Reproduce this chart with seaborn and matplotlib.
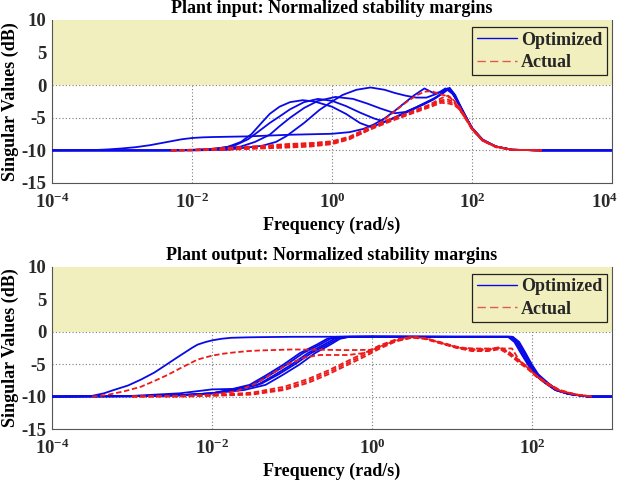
import numpy as np
import pandas as pd
import matplotlib
matplotlib.use("Agg")
import matplotlib.pyplot as plt
import matplotlib.transforms as mtransforms
from matplotlib.lines import Line2D
import seaborn as sns

# ---------------- data (log10 of frequency in rad/s, singular value in dB) ----------------
# Top panel: Plant input, "Optimized" (solid blue)
top_opt1_x = [-4, -3.4, -3.2, -3.0, -2.8, -2.6, -2.45, -2.3, -2.15, -2.0, -1.85, -1.7, -1.2, -0.6, 0.0, 0.25, 0.45, 0.6, 0.75, 0.9, 1.05, 1.18, 1.32, 1.45, 1.55, 1.65, 1.74, 1.82, 1.91, 2.0, 2.15, 2.34, 2.57, 3.0, 4.0]
top_opt1_y = [-10, -9.95, -9.85, -9.7, -9.5, -9.2, -8.9, -8.6, -8.3, -8.1, -8.0, -7.95, -7.85, -7.6, -7.45, -7.2, -6.7, -6.0, -5.1, -3.9, -2.6, -1.5, -0.5, -1.2, -1.1, -0.5, -1.4, -3.0, -4.8, -6.6, -8.4, -9.4, -9.9, -10, -10]
top_opt2_x = [-4, -2.5, -1.8, -1.5, -1.3, -1.15, -1.0, -0.89, -0.75, -0.6, -0.42, -0.25, 0.0, 0.2, 0.4, 0.55, 0.7, 0.9, 1.1, 1.3, 1.45, 1.56, 1.66, 1.74, 1.82, 1.91, 2.0, 2.15, 2.34, 2.57, 3.0, 4.0]
top_opt2_y = [-10, -10, -9.9, -9.5, -8.7, -7.5, -5.7, -4.4, -3.3, -2.6, -2.3, -2.5, -3.3, -4.4, -5.8, -6.4, -5.9, -4.9, -3.9, -2.9, -2.1, -1.3, -0.5, -1.4, -3.0, -4.8, -6.6, -8.4, -9.4, -9.9, -10, -10]
top_opt3_x = [-4, -2.3, -1.7, -1.4, -1.2, -1.05, -0.89, -0.75, -0.6, -0.4, -0.2, 0.0, 0.2, 0.4, 0.6, 0.75, 0.9, 1.1, 1.3, 1.45, 1.56, 1.66, 1.74, 1.82, 1.91, 2.0, 2.15, 2.34, 2.57, 3.0, 4.0]
top_opt3_y = [-10, -10, -9.8, -9.3, -8.3, -7.1, -5.8, -4.8, -3.7, -2.6, -2.1, -2.4, -3.2, -4.2, -5.1, -5.6, -5.0, -4.0, -3.0, -2.2, -1.4, -0.6, -1.5, -3.1, -4.9, -6.7, -8.5, -9.4, -9.9, -10, -10]
top_opt4_x = [-4, -2.2, -1.6, -1.3, -1.1, -0.89, -0.75, -0.6, -0.4, -0.2, 0.05, 0.3, 0.5, 0.7, 0.9, 1.05, 1.2, 1.35, 1.5, 1.6, 1.68, 1.76, 1.84, 1.92, 2.0, 2.15, 2.34, 2.57, 3.0, 4.0]
top_opt4_y = [-10, -10, -9.8, -9.4, -8.7, -7.6, -6.3, -5.0, -3.5, -2.4, -1.8, -2.1, -2.8, -3.6, -4.3, -4.1, -3.4, -2.6, -1.8, -1.1, -0.4, -1.5, -3.3, -5.0, -6.5, -8.3, -9.4, -9.9, -10, -10]
top_opt5_x = [-4, -2.0, -1.5, -1.0, -0.8, -0.65, -0.4, -0.18, 0.0, 0.15, 0.35, 0.55, 0.75, 0.9, 1.05, 1.2, 1.35, 1.5, 1.62, 1.72, 1.82, 1.91, 2.0, 2.15, 2.34, 2.57, 3.0, 4.0]
top_opt5_y = [-10, -10, -9.9, -9.3, -8.7, -7.8, -5.8, -3.8, -2.5, -1.5, -0.7, -0.35, -0.7, -1.2, -1.6, -1.9, -1.9, -1.3, -0.5, -1.3, -3.0, -4.8, -6.6, -8.4, -9.4, -9.9, -10, -10]

# Top panel: "Actual" (dashed red)
top_act1_x = [-2.3, -2.0, -1.5, -1.0, -0.6, -0.3, 0.0, 0.25, 0.45, 0.65, 0.85, 1.05, 1.2, 1.32, 1.42, 1.52, 1.62, 1.7, 1.8, 1.9, 2.0, 2.15, 2.34, 2.57, 3.0]
top_act1_y = [-10, -9.9, -9.6, -9.3, -9.0, -8.9, -8.7, -8.1, -7.3, -6.1, -4.4, -2.7, -1.6, -1.0, -0.9, -1.3, -1.6, -2.0, -3.4, -5.0, -6.6, -8.4, -9.4, -9.9, -10]
top_act_x = [-2.3, -2.0, -1.5, -1.0, -0.6, -0.3, 0.0, 0.25, 0.5, 0.8, 1.1, 1.39, 1.56, 1.66, 1.74, 1.82, 1.91, 2.0, 2.15, 2.34, 2.57, 3.0]
top_act2_y = [-10, -9.95, -9.7, -9.4, -9.1, -8.9, -8.6, -7.9, -6.6, -5.3, -4.2, -3.0, -2.0, -1.6, -2.3, -3.3, -4.9, -6.6, -8.4, -9.4, -9.9, -10]
top_act3_y = [-10, -9.95, -9.8, -9.5, -9.3, -9.1, -8.8, -8.0, -6.8, -5.5, -4.3, -3.1, -2.3, -2.2, -2.6, -3.4, -5.0, -6.7, -8.5, -9.4, -9.9, -10]
top_act4_y = [-10, -9.98, -9.85, -9.6, -9.45, -9.3, -8.95, -8.2, -6.9, -5.6, -4.4, -3.2, -2.5, -2.5, -2.8, -3.6, -5.1, -6.7, -8.5, -9.5, -9.9, -10]
top_act5_y = [-10, -9.99, -9.9, -9.7, -9.55, -9.4, -9.05, -8.3, -7.0, -5.7, -4.5, -3.4, -2.7, -2.8, -3.0, -3.7, -5.2, -6.8, -8.5, -9.5, -9.9, -10]

# Bottom panel: Plant output, "Optimized"
bot_opt1_x = [-4, -3.7, -3.5, -3.35, -3.23, -3.05, -2.89, -2.72, -2.56, -2.45, -2.35, -2.25, -2.18, -2.08, -2.0, -1.88, -1.76, -1.55, -1.4, -1.0, 0.0, 1.0, 1.72, 1.8, 1.875, 1.96, 2.04, 2.17, 2.3, 2.46, 2.7, 3.0]
bot_opt1_y = [-10, -9.97, -9.9, -9.5, -9.0, -8.3, -7.4, -6.3, -5.0, -4.1, -3.3, -2.5, -2.0, -1.6, -1.35, -1.1, -0.95, -0.88, -0.85, -0.8, -0.78, -0.8, -0.8, -1.6, -3.3, -5.1, -6.6, -7.9, -9.0, -9.6, -10, -10]
bot_opt_y = [-10, -9.95, -9.8, -9.5, -9.0, -8.2, -6.7, -5.1, -3.3, -2.0, -1.1, -0.8, -0.78, -0.8, -0.8, -1.6, -3.3, -5.1, -6.6, -7.9, -9.0, -9.6, -10, -10]
bot_opt2_x = [-4, -3.0, -2.4, -2.0, -1.76, -1.49, -1.28, -1.07, -0.86, -0.65, -0.52, -0.4, 0.0, 1.0, 1.74, 1.82, 1.9, 1.98, 2.06, 2.18, 2.3, 2.46, 2.7, 3.0]
bot_opt3_x = [-4, -3.0, -2.4, -2.0, -1.7, -1.43, -1.22, -1.01, -0.8, -0.6, -0.47, -0.35, 0.0, 1.0, 1.72, 1.8, 1.88, 1.96, 2.04, 2.17, 2.3, 2.46, 2.7, 3.0]
bot_opt4_x = [-4, -3.0, -2.4, -2.0, -1.65, -1.38, -1.17, -0.96, -0.76, -0.56, -0.43, -0.3, 0.0, 1.0, 1.75, 1.83, 1.91, 1.99, 2.07, 2.19, 2.31, 2.47, 2.7, 3.0]
bot_opt4_y = [-10, -9.9, -9.5, -8.9, -8.8, -8.0, -6.6, -5.0, -3.3, -2.0, -1.1, -0.8, -0.78, -0.8, -0.8, -1.6, -3.3, -5.1, -6.6, -7.9, -9.0, -9.6, -10, -10]
bot_opt5_x = [-4, -3.0, -2.4, -2.0, -1.6, -1.33, -1.12, -0.91, -0.71, -0.52, -0.4, -0.28, 0.0, 1.0, 1.7, 1.78, 1.86, 1.95, 2.03, 2.16, 2.29, 2.45, 2.7, 3.0]
bot_opt6_x = [-4, -3.0, -2.4, -2.0, -1.8, -1.53, -1.32, -1.11, -0.9, -0.69, -0.56, -0.44, 0.0, 1.0, 1.76, 1.84, 1.92, 2.0, 2.08, 2.2, 2.32, 2.48, 2.7, 3.0]

# Bottom panel: "Actual"
bot_act1_x = [-3.5, -3.4, -3.31, -3.1, -2.89, -2.72, -2.56, -2.39, -2.18, -2.0, -1.86, -1.72, -1.55, -1.4, -1.0, -0.6, -0.3, 0.0, 0.1, 0.3, 0.5, 0.65, 0.85, 1.05, 1.25, 1.45, 1.6, 1.72, 1.85, 1.95, 2.05, 2.2, 2.35, 2.55, 2.75]
bot_act1_y = [-10, -9.9, -9.75, -9.2, -8.5, -7.6, -6.7, -5.6, -4.3, -3.7, -3.4, -3.2, -3.0, -2.9, -2.75, -2.8, -2.85, -2.8, -2.3, -1.3, -0.85, -1.0, -1.7, -2.4, -2.8, -2.8, -2.5, -3.3, -4.6, -5.6, -6.8, -8.1, -9.1, -9.7, -10]
bot_act2_x = [-2.5, -2.0, -1.7, -1.45, -1.25, -1.05, -0.85, -0.65, -0.3, -0.1, 0.05, 0.2, 0.4, 0.55, 0.7, 0.9, 1.1, 1.3, 1.5, 1.75, 1.85, 1.95, 2.05, 2.2, 2.35, 2.55, 2.75]
bot_act2_y = [-10, -9.7, -9.2, -8.0, -6.5, -5.0, -4.0, -3.6, -3.6, -3.3, -2.6, -1.8, -1.0, -0.85, -1.1, -1.9, -2.5, -2.6, -2.6, -2.6, -4.6, -5.6, -6.8, -8.1, -9.1, -9.7, -10]
bot_act_x = [-3.0, -2.3, -1.9, -1.5, -1.1, -0.8, -0.55, -0.35, -0.1, 0.1, 0.3, 0.5, 0.65, 0.85, 1.05, 1.25, 1.45, 1.6, 1.72, 1.85, 1.95, 2.05, 2.2, 2.35, 2.55, 2.75]
bot_act3_y = [-10, -9.9, -9.7, -9.4, -8.5, -7.3, -6.0, -4.8, -3.3, -2.1, -1.2, -0.85, -1.0, -1.6, -2.3, -2.7, -2.7, -2.4, -3.2, -4.5, -5.5, -6.7, -8.0, -9.0, -9.7, -10]
bot_act4_y = [-10, -9.95, -9.8, -9.6, -8.8, -7.6, -6.3, -5.1, -3.6, -2.4, -1.4, -0.9, -1.05, -1.7, -2.4, -2.9, -2.9, -2.6, -3.4, -4.7, -5.6, -6.8, -8.1, -9.1, -9.7, -10]
bot_act5_y = [-10, -9.98, -9.85, -9.7, -9.0, -7.9, -6.6, -5.4, -3.9, -2.6, -1.5, -0.95, -1.1, -1.8, -2.5, -3.0, -3.0, -2.7, -3.6, -4.9, -5.8, -6.9, -8.2, -9.2, -9.7, -10]

series_names = ["Optimized", "Actual"]
titles = ["Plant input: Normalized stability margins", "Plant output: Normalized stability margins"]
ytick_vals = [-15, -10, -5, 0, 5, 10]
top_xtick_exp = [-4, -2, 0, 2, 4]
bot_xtick_exp = [-4, -2, 0, 2]

panels = {
    "top": {
        "Optimized": [(top_opt1_x, top_opt1_y), (top_opt2_x, top_opt2_y), (top_opt3_x, top_opt3_y),
                      (top_opt4_x, top_opt4_y), (top_opt5_x, top_opt5_y)],
        "Actual": [(top_act1_x, top_act1_y), (top_act_x, top_act2_y), (top_act_x, top_act3_y),
                   (top_act_x, top_act4_y), (top_act_x, top_act5_y)],
    },
    "bottom": {
        "Optimized": [(bot_opt1_x, bot_opt1_y), (bot_opt2_x, bot_opt_y), (bot_opt3_x, bot_opt_y),
                      (bot_opt4_x, bot_opt4_y), (bot_opt5_x, bot_opt_y), (bot_opt6_x, bot_opt_y)],
        "Actual": [(bot_act1_x, bot_act1_y), (bot_act2_x, bot_act2_y), (bot_act_x, bot_act3_y),
                   (bot_act_x, bot_act4_y), (bot_act_x, bot_act5_y)],
    },
}

rows = []
for pname, groups in panels.items():
    for sname, curves in groups.items():
        for cid, (xs, ys) in enumerate(curves):
            for xe, yv in zip(xs, ys):
                rows.append({"panel": pname, "series": sname, "curve": f"{sname}{cid}",
                             "freq": 10.0 ** xe, "sv": yv})
df = pd.DataFrame(rows)

# ---------------- style ----------------
sns.set_theme(style="white")
plt.rcParams["font.family"] = ["Liberation Serif", "DejaVu Serif"]
plt.rcParams["font.weight"] = "bold"
plt.rcParams["mathtext.fontset"] = "custom"
plt.rcParams["mathtext.rm"] = "Liberation Serif:bold"
plt.rcParams["mathtext.it"] = "Liberation Serif:bold:italic"
plt.rcParams["mathtext.bf"] = "Liberation Serif:bold"
plt.rcParams["mathtext.default"] = "rm"

BLUE = "#0A0AE8"
RED = "#EE1A1A"
SHADE = "#F1EFBE"
TICKC = "#2a2a2a"

fig = plt.figure(figsize=(6.24, 4.83), dpi=100)
ax_top = fig.add_axes([52 / 624, 1 - 183 / 483, 560 / 624, 163 / 483])
ax_bot = fig.add_axes([52 / 624, 1 - 429 / 483, 560 / 624, 162.3 / 483])

for ax, pname, title, xt, xlim in [
    (ax_top, "top", titles[0], top_xtick_exp, (1e-4, 1e4)),
    (ax_bot, "bottom", titles[1], bot_xtick_exp, (1e-4, 1e3)),
]:
    sub = df[df["panel"] == pname]
    ax.set_axisbelow(True)
    ax.axhspan(0, 10, color=SHADE, lw=0, zorder=1)
    sns.lineplot(data=sub, x="freq", y="sv", hue="series", style="series",
                 units="curve", estimator=None, sort=False,
                 hue_order=series_names, style_order=series_names,
                 palette={"Optimized": BLUE, "Actual": RED},
                 dashes={"Optimized": "", "Actual": (3.0, 1.5)},
                 linewidth=1.3, legend=False, ax=ax, zorder=3)
    ax.set_xscale("log")
    ax.set_xlim(*xlim)
    ax.set_ylim(-15, 10)
    ax.set_xticks([10.0 ** e for e in xt])
    ax.set_xticklabels([f"$10^{{{e}}}$" for e in xt])
    ax.minorticks_off()
    ax.set_yticks(ytick_vals)
    ax.set_yticklabels([str(v) for v in ytick_vals])
    ax.tick_params(axis="both", length=0, labelsize=13.5, colors=TICKC)
    ax.tick_params(axis="x", pad=7)
    ax.tick_params(axis="y", pad=4)
    for lab in ax.get_xticklabels() + ax.get_yticklabels():
        lab.set_fontweight("bold")
    ax.grid(True, which="major", color="#7a7a7a", linestyle=(0, (1, 2)), linewidth=0.8)
    for side in ["left", "bottom", "right"]:
        ax.spines[side].set_color("#555555")
        ax.spines[side].set_linewidth(0.8)
    ax.spines["top"].set_visible(False)
    ax.set_title(title, fontsize=13, fontweight="bold", pad=5, color="black")
    ax.set_xlabel("Frequency (rad/s)", fontsize=13, fontweight="bold", labelpad=3, color="black")
    ax.set_ylabel("Singular Values (dB)", fontsize=13, fontweight="bold", labelpad=2, color="black")
    handles = [Line2D([], [], color=BLUE, lw=1.0),
               Line2D([], [], color="#E05A5A", lw=1.0, dashes=(6, 3))]
    leg = ax.legend(handles, series_names, loc="upper right",
                    bbox_to_anchor=(1 - 5 / 560, 1 - 7 / 163), borderaxespad=0,
                    frameon=True, fancybox=False, framealpha=1,
                    prop={"family": "Liberation Serif", "weight": "bold", "size": 13},
                    handlelength=2.2, handletextpad=0.25, borderpad=0.25, labelspacing=0.3)
    leg.get_frame().set_facecolor("none")
    leg.get_frame().set_edgecolor("#222222")
    leg.get_frame().set_linewidth(0.9)

# keep the right-most top tick label (10^4) inside the canvas
last = ax_top.get_xticklabels()[-1]
last.set_transform(last.get_transform() + mtransforms.ScaledTranslation(-7 / 100, 0, fig.dpi_scale_trans))

fig.savefig("out.png", dpi=100)
